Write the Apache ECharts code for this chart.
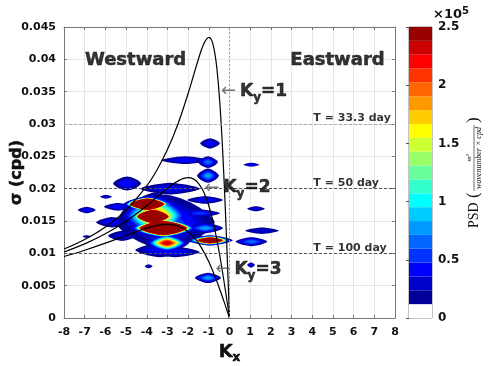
<!DOCTYPE html>
<html>
<head>
<meta charset="utf-8">
<script src="https://cdn.jsdelivr.net/npm/echarts@6/dist/echarts.min.js"></script>
<style>
  html, body { margin: 0; padding: 0; background: #fff; }
  #chart { width: 497px; height: 366px; }
</style>
</head>
<body>
<div id="chart"></div>
<script>
// dispersion curves (Kx, sigma in cpd)
const curveKx = [-8, -7, -6, -5, -4, -3.5, -3, -2.5, -2, -1.75, -1.5, -1.25, -1, -0.8, -0.6, -0.4, -0.2, 0];
const ky1Sigma = [0.01068, 0.01215, 0.01408, 0.01669, 0.02042, 0.02293, 0.02604, 0.02993, 0.03472, 0.03739, 0.04006, 0.04234, 0.0434, 0.04234, 0.03829, 0.02993, 0.01669, 0];
const ky2Sigma = [0.01021, 0.01146, 0.01302, 0.01497, 0.01736, 0.0187, 0.02003, 0.02117, 0.0217, 0.02151, 0.02083, 0.01951, 0.01736, 0.01497, 0.01194, 0.00835, 0.0043, 0];
const ky3Sigma = [0.00951, 0.01048, 0.01157, 0.01276, 0.01389, 0.0143, 0.01447, 0.01423, 0.01335, 0.01259, 0.01157, 0.01027, 0.00868, 0.0072, 0.00556, 0.00379, 0.00192, 0];

// PSD patches: centre, half extent, peak contour level (1..20, >20 saturates)
const blobKx    = [-0.94, -2.15, -1.04, -1.04, -4.95, -5.97, -6.9, -2.87, -3.98, -3.70, -3.20, -3.02, -0.94, -1.04, 1.06, 1.57, 1.28, 1.06, 1.04, -3.91, -6.9, -5.39, -5.68, -5.19, -3.11, -3.36, -1.18, -1.43, -1.18, -2.63, -3.6];
const blobSigma = [0.0270, 0.0244, 0.0241, 0.0220, 0.0208, 0.01875, 0.0167, 0.0200, 0.0176, 0.0157, 0.0139, 0.0116, 0.0120, 0.0062, 0.0118, 0.0135, 0.0169, 0.0237, 0.0082, 0.0080, 0.0126, 0.0172, 0.0148, 0.0127, 0.0148, 0.0105, 0.01825, 0.0162, 0.0139, 0.0102, 0.0158];
const blobHalfW = [0.48, 1.16, 0.48, 0.53, 0.68, 0.29, 0.43, 1.45, 1.15, 1.05, 1.6, 1.06, 1.1, 0.63, 0.77, 0.82, 0.43, 0.39, 0.19, 0.19, 0.2, 0.68, 0.77, 0.68, 2.4, 1.2, 0.87, 0.97, 0.87, 1.2, 1.7];
const blobHalfH = [0.0008, 0.0006, 0.0009, 0.0011, 0.0011, 0.0003, 0.0005, 0.0009, 0.0012, 0.0014, 0.0015, 0.0014, 0.0008, 0.0008, 0.0007, 0.0005, 0.0004, 0.0003, 0.0004, 0.0003, 0.0002, 0.0006, 0.0008, 0.0008, 0.0043, 0.0011, 0.0006, 0.0006, 0.0008, 0.0008, 0.0036];
const blobPeak  = [3, 3, 5, 6, 3, 2, 3, 3, 150, 150, 150, 19, 40, 6, 5, 2, 2, 3, 3, 2, 2, 3, 3, 2, 4, 3, 3, 4, 6, 3, 16];

// colour bar (x10^5)
const cbLevels = [0, 0.119, 0.238, 0.357, 0.476, 0.595, 0.714, 0.833, 0.952, 1.071, 1.190, 1.310, 1.429, 1.548, 1.667, 1.786, 1.905, 2.024, 2.143, 2.262, 2.381, 2.5];
const cbColors = ['#ffffff', '#000099', '#0000cc', '#0000ff', '#0033ff', '#0066ff', '#0099ff', '#00ccff', '#00ffff', '#33ffcc', '#66ff99',
                  '#99ff66', '#ccff33', '#ffff00', '#ffcc00', '#ff9900', '#ff6600', '#ff3300', '#ff0000', '#cc0000', '#990000'];

// annotations
const periodSigma = [0.03, 0.02, 0.01];
const periodNames = ['T = 33.3 day', 'T = 50 day', 'T = 100 day'];
const periodLabelKx = 4.03;
const periodLabelSigma = [0.0309, 0.0209, 0.0108];
const kyNames = ['1', '2', '3'];
const kyArrowKx = [-0.43, -1.23, -0.70];
const kyArrowSigma = [0.0350, 0.0201, 0.0075];
const sideNames = ['Westward', 'Eastward'];
const sideKx = [-4.54, 5.22];
const sideSigma = [0.0399, 0.0399];

const FONT = 'DejaVu Sans';
const INK = '#111';
const chart = echarts.init(document.getElementById('chart'));

// one item per (patch, level), lower levels first
const blobItems = [];
for (let lv = 1; lv <= 20; lv++) {
    blobKx.forEach((kx, i) => {
        if (blobPeak[i] >= lv) blobItems.push([kx, blobSigma[i], i, lv]);
    });
}

function renderBlob(params, api) {
    const b = api.value(2), lv = api.value(3);
    const pk = blobPeak[b] + 0.6;
    const s = Math.pow(Math.log(pk / lv) / Math.log(pk), 0.4);
    const a = blobHalfW[b] * s, h = blobHalfH[b] * s;
    const pts = [];
    for (let k = 0; k < 28; k++) {
        const t = k / 28 * 2 * Math.PI;
        const c = Math.cos(t), sn = Math.sin(t);
        pts.push(api.coord([
            blobKx[b] + a * Math.sign(c) * Math.pow(Math.abs(c), 1.4),
            blobSigma[b] + h * Math.sign(sn) * Math.pow(Math.abs(sn), 1.4)
        ]));
    }
    return { type: 'polygon', shape: { points: pts }, style: { fill: cbColors[lv] } };
}

function renderBar(params, api) {
    const lo = api.coord([0, api.value(1)]);
    const hi = api.coord([1, api.value(2)]);
    return { type: 'rect', shape: { x: lo[0], y: hi[1], width: hi[0] - lo[0], height: lo[1] - hi[1] },
             style: { fill: cbColors[api.value(3)] } };
}

const curveStyle = { color: '#000', width: 1.2 };
// a thin outline in the same colour makes the bold labels as heavy as the original
const heavy = { textBorderColor: '#000', textBorderWidth: 0.5 };
const kyRich = {
    arr: { fontSize: 18, color: '#555', fontFamily: FONT },
    k: Object.assign({ fontSize: 17, fontWeight: 'bold', color: '#000', fontFamily: FONT }, heavy),
    s: Object.assign({ fontSize: 12, fontWeight: 'bold', color: '#000', fontFamily: FONT, padding: [12, 0, 0, 0] }, heavy)
};

const option = {
    animation: false,
    backgroundColor: '#fff',
    textStyle: { fontFamily: FONT },
    grid: [
        { left: 64, right: 102, top: 27, bottom: 48, containLabel: false, outerBoundsMode: 'none' },
        { left: 409, width: 23, top: 27, bottom: 48, containLabel: false, outerBoundsMode: 'none',
          show: true, borderColor: '#888', borderWidth: 1 }
    ],
    xAxis: [
        {
            type: 'value', gridIndex: 0, min: -8, max: 8, interval: 1,
            name: '{k|K}{s|x}', nameLocation: 'middle', nameGap: 17,
            nameTextStyle: { rich: {
                k: Object.assign({ fontSize: 18, fontWeight: 'bold', color: INK, fontFamily: FONT }, heavy),
                s: Object.assign({ fontSize: 12, fontWeight: 'bold', color: INK, fontFamily: FONT, padding: [12, 0, 0, 0] }, heavy)
            } },
            axisLine: { onZero: false, lineStyle: { color: '#777' } },
            axisTick: { inside: true, length: 3, lineStyle: { color: '#777' } },
            axisLabel: { fontSize: 11, fontWeight: 'bold', color: INK, margin: 9 },
            splitLine: { lineStyle: { color: '#e6e6e6' } }
        },
        {
            type: 'value', gridIndex: 0, min: -8, max: 8, interval: 1, position: 'top',
            axisLine: { onZero: false, lineStyle: { color: '#777' } },
            axisTick: { inside: true, length: 3, lineStyle: { color: '#777' } },
            axisLabel: { show: false }, splitLine: { show: false }
        },
        { type: 'value', gridIndex: 1, min: 0, max: 1, show: false }
    ],
    yAxis: [
        {
            type: 'value', gridIndex: 0, min: 0, max: 0.045, interval: 0.005,
            name: 'σ (cpd)', nameLocation: 'middle', nameGap: 39, nameRotate: 90, nameMoveOverlap: false,
            nameTextStyle: Object.assign({ fontSize: 16, fontWeight: 'bold', color: INK }, heavy),
            axisLine: { show: true, onZero: false, lineStyle: { color: '#777' } },
            axisTick: { show: true, inside: true, length: 3, lineStyle: { color: '#777' } },
            axisLabel: { fontSize: 11, fontWeight: 'bold', color: INK, margin: 8 },
            splitLine: { lineStyle: { color: '#e6e6e6' } }
        },
        {
            type: 'value', gridIndex: 0, min: 0, max: 0.045, interval: 0.005, position: 'right',
            axisLine: { show: true, onZero: false, lineStyle: { color: '#777' } },
            axisTick: { show: true, inside: true, length: 3, lineStyle: { color: '#777' } },
            axisLabel: { show: false }, splitLine: { show: false }
        },
        {
            type: 'value', gridIndex: 1, min: 0, max: 2.5, interval: 0.5, position: 'right',
            axisLine: { show: false },
            axisTick: { show: true, inside: true, length: 3, lineStyle: { color: '#555' } },
            axisLabel: { fontSize: 12, fontWeight: 'bold', color: INK, margin: 6 },
            splitLine: { show: false }
        }
    ],
    graphic: [
        {
            type: 'text', x: 433, y: 15,
            style: { text: '{a|×10}{b|5}', verticalAlign: 'middle', rich: {
                a: { fontSize: 13, fontWeight: 'bold', fill: INK, fontFamily: FONT },
                b: { fontSize: 10, fontWeight: 'bold', fill: INK, fontFamily: FONT, padding: [0, 0, 8, 0] }
            } }
        },
        {
            type: 'group', x: 474, y: 228, rotation: Math.PI / 2,
            children: [
                { type: 'text', x: 0, y: 0, style: { text: 'PSD', fontSize: 14, fontFamily: 'Liberation Serif', fill: INK, verticalAlign: 'middle' } },
                { type: 'text', x: 30, y: 0, style: { text: '(', fontSize: 17, fontFamily: 'Liberation Serif', fill: INK, verticalAlign: 'middle' } },
                { type: 'text', x: 70, y: -5, style: { text: 'm²', fontSize: 7, fontStyle: 'italic', fontFamily: 'Liberation Serif', fill: INK, align: 'center', verticalAlign: 'middle' } },
                { type: 'line', shape: { x1: 37, y1: 0, x2: 103, y2: 0 }, style: { stroke: INK, lineWidth: 0.6 } },
                { type: 'text', x: 70, y: 5, style: { text: 'wavenumber × cpd', fontSize: 8, fontStyle: 'italic', fontFamily: 'Liberation Serif', fill: INK, align: 'center', verticalAlign: 'middle' } },
                { type: 'text', x: 105, y: 0, style: { text: ')', fontSize: 17, fontFamily: 'Liberation Serif', fill: INK, verticalAlign: 'middle' } }
            ]
        }
    ],
    series: [
        {
            type: 'custom', xAxisIndex: 0, yAxisIndex: 0, z: 2, clip: true,
            renderItem: renderBlob, encode: { x: 0, y: 1 }, data: blobItems
        },
        {
            type: 'line', xAxisIndex: 0, yAxisIndex: 0, data: [], z: 3,
            markLine: {
                silent: true, symbol: 'none', label: { show: false },
                data: [
                    { yAxis: periodSigma[0], lineStyle: { color: '#aaa', type: [3, 2], width: 1 } },
                    { yAxis: periodSigma[1], lineStyle: { color: '#555', type: [3, 2], width: 1 } },
                    { yAxis: periodSigma[2], lineStyle: { color: '#555', type: [3, 2], width: 1 } },
                    { xAxis: 0, lineStyle: { color: '#999', type: [2, 2], width: 1 } }
                ]
            }
        },
        { type: 'line', xAxisIndex: 0, yAxisIndex: 0, z: 4, smooth: 0.4, symbol: 'none', lineStyle: curveStyle, data: curveKx.map((k, i) => [k, ky1Sigma[i]]) },
        { type: 'line', xAxisIndex: 0, yAxisIndex: 0, z: 4, smooth: 0.4, symbol: 'none', lineStyle: curveStyle, data: curveKx.map((k, i) => [k, ky2Sigma[i]]) },
        { type: 'line', xAxisIndex: 0, yAxisIndex: 0, z: 4, smooth: 0.4, symbol: 'none', lineStyle: curveStyle, data: curveKx.map((k, i) => [k, ky3Sigma[i]]) },
        {
            type: 'scatter', xAxisIndex: 0, yAxisIndex: 0, z: 5, symbolSize: 1, itemStyle: { color: 'rgba(0,0,0,0)' },
            data: sideNames.map((n, i) => ({ name: n, value: [sideKx[i], sideSigma[i]] })),
            label: Object.assign({ show: true, position: 'inside', formatter: p => p.name, fontSize: 18, fontWeight: 'bold', color: '#000' }, heavy)
        },
        {
            type: 'scatter', xAxisIndex: 0, yAxisIndex: 0, z: 5, symbolSize: 1, itemStyle: { color: 'rgba(0,0,0,0)' },
            data: periodNames.map((n, i) => ({ name: n, value: [periodLabelKx, periodLabelSigma[i]] })),
            label: { show: true, position: 'right', distance: 0, formatter: p => p.name, fontSize: 11, fontWeight: 'bold', color: '#000' }
        },
        {
            type: 'scatter', xAxisIndex: 0, yAxisIndex: 0, z: 5, symbolSize: 1, itemStyle: { color: 'rgba(0,0,0,0)' },
            data: kyNames.map((n, i) => ({ name: n, value: [kyArrowKx[i], kyArrowSigma[i]] })),
            label: { show: true, position: 'right', distance: 0, rich: kyRich,
                     formatter: p => '{arr|←} {k|K}{s|y}{k|=' + p.name + '}' }
        },
        {
            type: 'custom', xAxisIndex: 2, yAxisIndex: 2, renderItem: renderBar, encode: { y: [1, 2] },
            data: cbColors.map((c, i) => [0, cbLevels[i], cbLevels[i + 1], i])
        }
    ]
};

chart.setOption(option);
</script>
</body>
</html>
